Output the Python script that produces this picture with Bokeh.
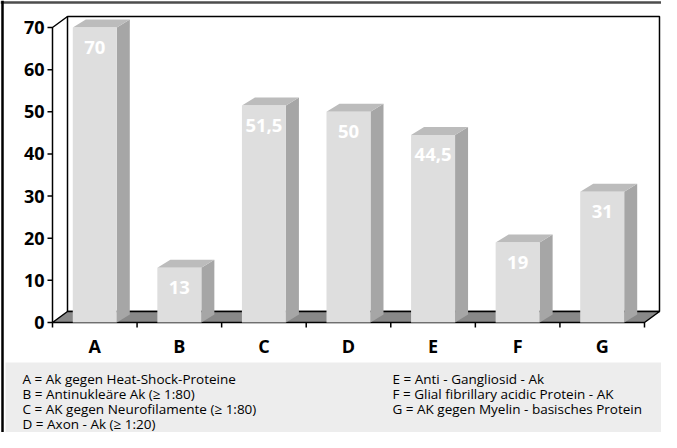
from bokeh.plotting import figure
from bokeh.models import Range1d
from bokeh.core.properties import value
from bokeh.embed import file_html
from bokeh.resources import INLINE

# ---------------- data ----------------
categories = ["A", "B", "C", "D", "E", "F", "G"]
values = [70, 13, 51.5, 50, 44.5, 19, 31]
value_labels = ["70", "13", "51,5", "50", "44,5", "19", "31"]
y_ticks = [0, 10, 20, 30, 40, 50, 60, 70]
legend_left = [
    "A = Ak gegen Heat-Shock-Proteine",
    "B = Antinukleäre Ak (≥ 1:80)",
    "C = AK gegen Neurofilamente (≥ 1:80)",
    "D = Axon - Ak (≥ 1:20)",
]
legend_right = [
    "E = Anti - Gangliosid  - Ak",
    "F = Glial fibrillary acidic Protein - AK",
    "G = AK gegen Myelin -  basisches Protein",
]

# ---------------- layout / style ----------------
W, H = 661, 432
X0_PX, Y0_PX = 52, 322          # pixel position of the data origin (from left / from top)
PX_PER_CAT = 84.57
PX_PER_UNIT = 4.214
BAR_W_PX = 44
BAR_DX_PX, BAR_DY_PX = 13, 8
WALL_DX_PX, WALL_DY_PX = 15, 11

FACE = "#dedede"
SIDE = "#a6a6a6"
TOP = "#bcbcbc"
FLOOR = "#888888"
BOLD_FONT = value("Open Sans")
TEXT_FONT = value("Open Sans")


def dx(px):
    return px / PX_PER_CAT


def dy(px):
    return px / PX_PER_UNIT


p = figure(width=W, height=H, output_backend="svg", toolbar_location=None,
           x_axis_type=None, y_axis_type=None,
           x_range=Range1d(-dx(X0_PX), dx(W - X0_PX)),
           y_range=Range1d(-dy(H - Y0_PX), dy(Y0_PX)),
           min_border=0, outline_line_color=None)
p.xgrid.visible = False
p.ygrid.visible = False
p.background_fill_color = "white"
p.border_fill_color = "white"
p.extra_x_ranges = {"px": Range1d(0, W)}
p.extra_y_ranges = {"px": Range1d(H, 0)}

n = len(categories)
ymax = max(y_ticks)
wdx, wdy = dx(WALL_DX_PX), dy(WALL_DY_PX)

# legend background and outer frame
p.quad(left=5, right=W, top=362, bottom=H, fill_color="#ededed", line_color=None,
       x_range_name="px", y_range_name="px")
p.segment(x0=[0, 2], y0=[2, 0], x1=[W, 2], y1=[2, H], line_color=["#4d4d4d", "#000000"],
          line_width=2.5, x_range_name="px", y_range_name="px")

# back wall
p.patch(x=[wdx, wdx, n + wdx, n + wdx], y=[wdy, ymax + wdy, ymax + wdy, wdy],
        fill_color="white", line_color="black", line_width=1.5)
# floor
p.patch(x=[0, n, n + wdx, wdx], y=[0, 0, wdy, wdy], fill_color=FLOOR,
        line_color="black", line_width=1.5)
# y axis line and top diagonal
p.line(x=[0, 0, wdx], y=[0, ymax, ymax + wdy], line_color="black", line_width=1.5)

# y ticks
p.segment(x0=[-dx(5)] * len(y_ticks), y0=y_ticks, x1=[0] * len(y_ticks), y1=y_ticks,
          line_color="black", line_width=1.5)
p.text(x=[0] * len(y_ticks), y=y_ticks, text=[str(t) for t in y_ticks],
       x_offset=-8, text_align="right", text_baseline="middle",
       text_font=BOLD_FONT, text_font_style="bold", text_font_size="18px", text_color="black")

# x ticks at category boundaries
bounds = list(range(n + 1))
p.segment(x0=bounds, y0=[0] * len(bounds), x1=bounds, y1=[-dy(5)] * len(bounds),
          line_color="black", line_width=1.5)
centers = [i + 0.5 for i in range(n)]
p.text(x=centers, y=[-dy(23.5)] * n, text=categories, text_align="center",
       text_baseline="middle", text_font=BOLD_FONT, text_font_style="bold",
       text_font_size="18px", text_color="black")

# bars
bw = dx(BAR_W_PX)
bdx, bdy = dx(BAR_DX_PX), dy(BAR_DY_PX)
lefts = [c - bw / 2 for c in centers]
rights = [c + bw / 2 for c in centers]
side_xs = [[r, r + bdx, r + bdx, r] for r in rights]
side_ys = [[0, bdy, v + bdy, v] for v in values]
top_xs = [[l, l + bdx, r + bdx, r] for l, r in zip(lefts, rights)]
top_ys = [[v, v + bdy, v + bdy, v] for v in values]
p.patches(xs=side_xs, ys=side_ys, fill_color=SIDE, line_color=None)
p.patches(xs=top_xs, ys=top_ys, fill_color=TOP, line_color=None)
p.vbar(x=centers, top=values, bottom=0, width=bw, fill_color=FACE, line_color=None)

p.text(x=centers, y=[v - dy(20) for v in values], text=value_labels, text_align="center",
       text_baseline="middle", text_font=BOLD_FONT, text_font_style="bold",
       text_font_size="18.5px", text_color="white")

# legend texts
line_y = [378, 393, 408, 423]
p.text(x=[22] * len(legend_left), y=line_y[:len(legend_left)], text=legend_left,
       text_align="left", text_baseline="alphabetic", text_font=TEXT_FONT,
       text_font_size="13.5px", text_color="black", x_range_name="px", y_range_name="px")
p.text(x=[392] * len(legend_right), y=line_y[:len(legend_right)], text=legend_right,
       text_align="left", text_baseline="alphabetic", text_font=TEXT_FONT,
       text_font_size="13.5px", text_color="black", x_range_name="px", y_range_name="px")

open("out.html", "w").write(file_html(p, INLINE))
